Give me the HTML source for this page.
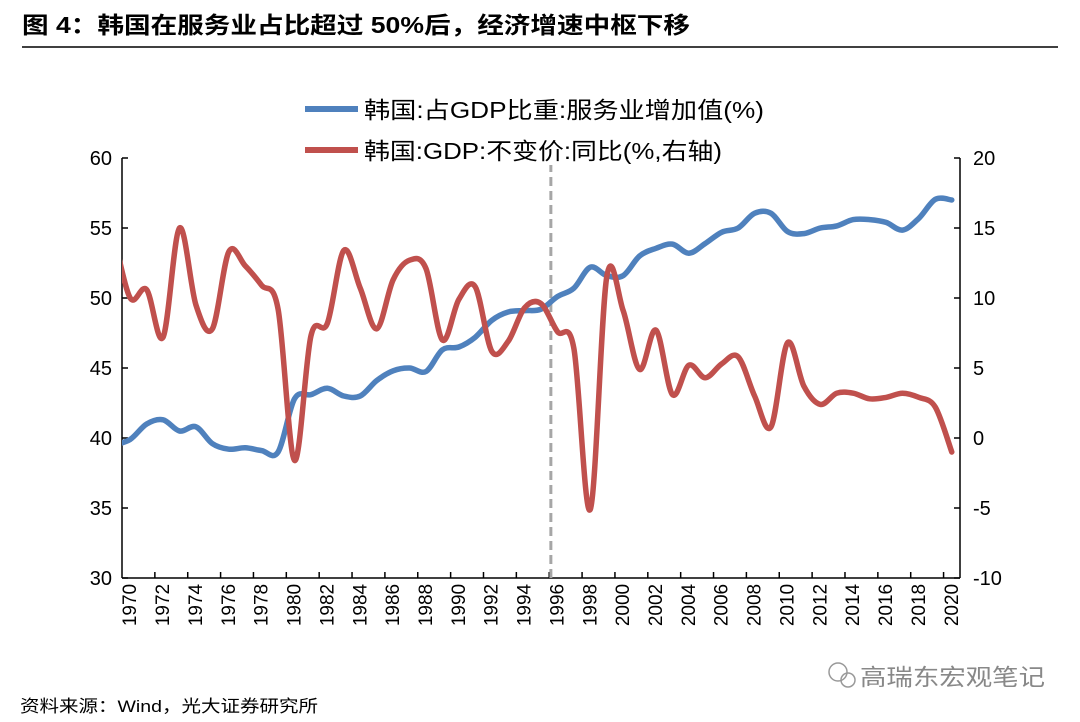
<!DOCTYPE html>
<html><head><meta charset="utf-8">
<style>
body{margin:0;background:#fff;}
svg{display:block;font-family:"Liberation Sans","Noto Sans CJK SC",sans-serif;}
</style></head>
<body>
<svg id="chart" width="1080" height="722" viewBox="0 0 1080 722">
<text x="22" y="33" font-size="23" font-weight="bold" fill="#000" textLength="668" lengthAdjust="spacingAndGlyphs">图 4：韩国在服务业占比超过 50%后，经济增速中枢下移</text>
<line x1="22" y1="47" x2="1058" y2="47" stroke="#000" stroke-width="1.5"/>
<g>
<line x1="305" y1="109" x2="358" y2="109" stroke="#4f81bd" stroke-width="6"/>
<text x="364" y="118" font-size="23" fill="#000" textLength="400" lengthAdjust="spacingAndGlyphs">韩国:占GDP比重:服务业增加值(%)</text>
<line x1="305" y1="150" x2="358" y2="150" stroke="#c0504d" stroke-width="6"/>
<text x="364" y="159" font-size="23" fill="#000" textLength="358" lengthAdjust="spacingAndGlyphs">韩国:GDP:不变价:同比(%,右轴)</text>
</g>
<defs><clipPath id="plotclip"><rect x="122" y="150" width="838" height="440"/></clipPath></defs>
<g id="axes"></g>
<g id="series" clip-path="url(#plotclip)"></g>
<text x="20" y="712" font-size="17" fill="#000" textLength="298" lengthAdjust="spacingAndGlyphs">资料来源：Wind，光大证券研究所</text>
<g>
<circle cx="838" cy="672" r="9" fill="none" stroke="#999" stroke-width="1.5"/>
<circle cx="848" cy="680" r="7" fill="none" stroke="#999" stroke-width="1.5"/>
<text x="860" y="685" font-size="23" fill="#888" textLength="185" lengthAdjust="spacingAndGlyphs">高瑞东宏观笔记</text>
</g>
</svg>
<script>
const years=[1969,1970,1971,1972,1973,1974,1975,1976,1977,1978,1979,1980,1981,1982,1983,1984,1985,1986,1987,1988,1989,1990,1991,1992,1993,1994,1995,1996,1997,1998,1999,2000,2001,2002,2003,2004,2005,2006,2007,2008,2009,2010,2011,2012,2013,2014,2015,2016,2017,2018,2019,2020];
const servicesShare=[39.5,39.9,41.0,41.3,40.5,40.8,39.6,39.2,39.3,39.1,39.0,42.8,43.1,43.55,43.0,43.0,44.1,44.8,45.0,44.75,46.3,46.5,47.2,48.4,49.0,49.1,49.2,50.1,50.7,52.2,51.6,51.6,53.0,53.55,53.85,53.2,53.9,54.7,55.0,56.05,56.05,54.75,54.6,55.0,55.15,55.6,55.6,55.4,54.85,55.7,57.05,57.0];
const gdpGrowth=[14.5,10.0,10.6,7.2,15.0,9.5,7.8,13.3,12.3,10.9,9.2,-1.6,7.3,8.2,13.4,10.7,7.8,11.3,12.7,12.1,7.0,9.9,10.8,6.2,6.9,9.3,9.6,7.6,6.4,-5.1,11.5,9.1,4.9,7.7,3.1,5.2,4.3,5.3,5.8,3.0,0.8,6.8,3.7,2.4,3.2,3.2,2.8,2.9,3.2,2.9,2.2,-1.0];
const leftTicks=[30,35,40,45,50,55,60];
const rightTicks=[-10,-5,0,5,10,15,20];
const xLabels=[1970,1972,1974,1976,1978,1980,1982,1984,1986,1988,1990,1992,1994,1996,1998,2000,2002,2004,2006,2008,2010,2012,2014,2016,2018,2020];
const markerYear=1996.1;

const NS="http://www.w3.org/2000/svg";
const L=122,R=960,T=158,B=578,step=(R-L)/51;
const xS=y=>L+step*(y-1970+0.5);
const yL=v=>B-(v-30)/30*(B-T);
const yR=v=>B-(v+10)/30*(B-T);
function mk(tag,attrs,parent){const e=document.createElementNS(NS,tag);for(const k in attrs)e.setAttribute(k,attrs[k]);parent.appendChild(e);return e;}
const axes=document.getElementById('axes'),series=document.getElementById('series');

let a=mk('line',{x1:L,y1:T,x2:L,y2:B,stroke:'#000','stroke-width':1.5},axes);


a=mk('line',{x1:R,y1:T,x2:R,y2:B,stroke:'#000','stroke-width':1.5},axes);


a=mk('line',{x1:L,y1:B,x2:R,y2:B,stroke:'#000','stroke-width':1.5},axes);



leftTicks.forEach(v=>{
  const y=yL(v);
  const t=mk('line',{x1:L,y1:y,x2:L+6,y2:y,stroke:'#000','stroke-width':1.5},axes);
  
  
  const tx=mk('text',{x:112,y:y+7,'font-size':20,'text-anchor':'end',fill:'#000'},axes);
  tx.textContent=v;
  
  
});
rightTicks.forEach(v=>{
  const y=yR(v);
  const t=mk('line',{x1:R-6,y1:y,x2:R,y2:y,stroke:'#000','stroke-width':1.5},axes);
  
  
  const tx=mk('text',{x:973,y:y+7,'font-size':20,'text-anchor':'start',fill:'#000'},axes);
  tx.textContent=v;
  
  
});
for(let k=1;k<26;k++){
  const x=L+step*2*k;
  const t=mk('line',{x1:x,y1:B,x2:x,y2:B-6,stroke:'#000','stroke-width':1.5},axes);
  
  
}
xLabels.forEach(yr=>{
  const x=xS(yr)+6;
  const tx=mk('text',{x:x,y:605,'font-size':19,'text-anchor':'middle',fill:'#000',transform:`rotate(-90 ${x} 605)`},axes);
  tx.textContent=yr;
  
  
});

function smooth(pts){
  let d=`M${pts[0][0]},${pts[0][1]}`;
  for(let i=0;i<pts.length-1;i++){
    const p0=pts[i-1]||pts[i],p1=pts[i],p2=pts[i+1],p3=pts[i+2]||p2;
    const c1=[p1[0]+(p2[0]-p0[0])/6,p1[1]+(p2[1]-p0[1])/6];
    const c2=[p2[0]-(p3[0]-p1[0])/6,p2[1]-(p3[1]-p1[1])/6];
    d+=` C${c1[0]},${c1[1]} ${c2[0]},${c2[1]} ${p2[0]},${p2[1]}`;
  }
  return d;
}
const mx=xS(markerYear)-step/2;
const dl=mk('line',{x1:mx,y1:B,x2:mx,y2:165,stroke:'#a6a6a6','stroke-width':3,'stroke-dasharray':'9,5'},series);



const bp=mk('path',{d:smooth(years.map((y,i)=>[xS(y),yL(servicesShare[i])])),fill:'none',stroke:'#4f81bd','stroke-width':5.5,'stroke-linejoin':'round','stroke-linecap':'round'},series);


const rp=mk('path',{d:smooth(years.map((y,i)=>[xS(y),yR(gdpGrowth[i])])),fill:'none',stroke:'#c0504d','stroke-width':5.5,'stroke-linejoin':'round','stroke-linecap':'round'},series);


</script>
</body></html>
